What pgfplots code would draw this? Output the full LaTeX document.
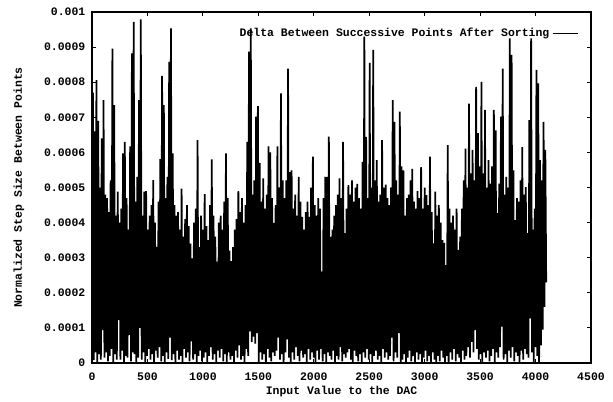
\documentclass[border=0pt]{standalone}
\usepackage{pgfplots}
\pgfplotsset{compat=1.18}
\usepackage{fontspec}
\newfontfamily\cour{Liberation Mono}
\newcommand{\cf}{\cour\bfseries\fontsize{8.6}{10}\selectfont}
\begin{document}
\begin{tikzpicture}
\path (-69pt,-27pt) rectangle (390.75pt,272.25pt);
\begin{axis}[
  at={(0pt,0pt)}, anchor=south west,
  scale only axis, width=374.25pt, height=263.25pt,
  xmin=0, xmax=4500, ymin=0, ymax=1000,
  xtick={0,500,1000,1500,2000,2500,3000,3500,4000,4500},
  xticklabels={0,500,1000,1500,2000,2500,3000,3500,4000,4500},
  ytick={0,100,200,300,400,500,600,700,800,900,1000},
  yticklabels={0,0.0001,0.0002,0.0003,0.0004,0.0005,0.0006,0.0007,0.0008,0.0009,0.001},
  tick align=inside, major tick length=3pt,
  every tick/.style={black, line width=0.8pt},
  axis line style={line width=1pt},
  tick label style={font=\cf},
  yticklabel style={xshift=-1.5pt},
  xticklabel style={yshift=-4pt},
  label style={font=\cf},
  xlabel={Input Value to the DAC},
  xlabel style={at={(rel axis cs:0.5,0)}, anchor=center, yshift=-21.5pt},
  ylabel={Normalized Step Size Between Points},
  ylabel style={at={(rel axis cs:0,0.5)}, anchor=center, yshift=54.75pt},
  legend style={at={(rel axis cs:1,1)}, anchor=north east, xshift=-9.5pt, yshift=-10pt,
    draw=none, fill=none, font=\cf, inner sep=0pt},
  legend plot pos=right,
  legend cell align=right,
  legend image code/.code={\draw[black, line width=0.8pt] (0pt,0pt) -- (18.75pt,0pt);},
]
\addplot[black, line width=1.3pt, line join=miter, miter limit=2] coordinates {
(0,20)(8,770)(16,8)(24,660)(32,30)(40,806)(48,0)(56,690)(64,25)(72,500)(80,10)(88,640)(96,94)(104,749)(112,15)(120,480)
(128,30)(136,470)(144,5)(152,430)(160,20)(168,520)(176,40)(184,896)(192,0)(200,735)(208,25)(216,420)(224,10)(232,488)(240,122)(248,400)
(256,10)(264,440)(272,35)(280,597)(288,0)(296,630)(304,20)(312,470)(320,15)(328,380)(336,80)(344,617)(352,5)(360,882)(368,30)(376,972)
(384,25)(392,460)(400,0)(408,530)(416,15)(424,749)(432,100)(440,979)(448,10)(456,420)(464,30)(472,488)(480,0)(488,490)(496,20)(504,380)
(512,40)(520,420)(528,10)(536,450)(544,25)(552,521)(560,0)(568,400)(576,35)(584,331)(592,15)(600,460)(608,45)(616,581)(624,5)(632,818)
(640,20)(648,735)(656,0)(664,470)(672,30)(680,530)(688,12)(696,858)(704,72)(712,953)(720,8)(728,597)(736,25)(744,450)(752,0)(760,420)
(768,35)(776,430)(784,10)(792,380)(800,20)(808,497)(816,0)(824,360)(832,40)(840,410)(848,15)(856,450)(864,30)(872,390)(880,5)(888,340)
(896,62)(904,298)(912,10)(920,400)(928,25)(936,440)(944,0)(952,635)(960,20)(968,330)(976,35)(984,420)(992,5)(1000,380)(1008,15)(1016,481)
(1024,30)(1032,390)(1040,0)(1048,350)(1056,20)(1064,450)(1072,45)(1080,580)(1088,10)(1096,420)(1104,25)(1112,360)(1120,0)(1128,289)(1136,35)(1144,400)
(1152,15)(1160,420)(1168,40)(1176,380)(1184,5)(1192,460)(1200,25)(1208,597)(1216,0)(1224,470)(1232,30)(1240,320)(1248,10)(1256,290)(1264,20)(1272,330)
(1280,0)(1288,380)(1296,35)(1304,410)(1312,15)(1320,490)(1328,50)(1336,430)(1344,10)(1352,470)(1360,20)(1368,400)(1376,0)(1384,450)(1392,40)(1400,630)
(1408,20)(1416,887)(1424,90)(1432,953)(1440,60)(1448,480)(1456,75)(1464,520)(1472,55)(1480,702)(1488,85)(1496,732)(1504,0)(1512,570)(1520,30)(1528,460)
(1536,10)(1544,526)(1552,25)(1560,440)(1568,0)(1576,480)(1584,40)(1592,617)(1600,15)(1608,600)(1616,5)(1624,470)(1632,30)(1640,399)(1648,20)(1656,450)
(1664,35)(1672,617)(1680,72)(1688,500)(1696,10)(1704,768)(1712,25)(1720,520)(1728,0)(1736,470)(1744,30)(1752,520)(1760,67)(1768,839)(1776,15)(1784,544)
(1792,0)(1800,549)(1808,30)(1816,440)(1824,10)(1832,480)(1840,45)(1848,420)(1856,20)(1864,530)(1872,5)(1880,460)(1888,35)(1896,416)(1904,15)(1912,380)
(1920,25)(1928,430)(1936,0)(1944,460)(1952,40)(1960,416)(1968,10)(1976,500)(1984,30)(1992,588)(2000,15)(2008,450)(2016,0)(2024,420)(2032,35)(2040,470)
(2048,10)(2056,440)(2064,40)(2072,260)(2080,5)(2088,470)(2096,25)(2104,530)(2112,0)(2120,530)(2128,30)(2136,645)(2144,20)(2152,359)(2160,10)(2168,380)
(2176,35)(2184,420)(2192,0)(2200,450)(2208,20)(2216,480)(2224,10)(2232,526)(2240,45)(2248,470)(2256,5)(2264,630)(2272,25)(2280,370)(2288,15)(2296,440)
(2304,30)(2312,507)(2320,40)(2328,480)(2336,10)(2344,520)(2352,0)(2360,460)(2368,35)(2376,500)(2384,20)(2392,510)(2400,5)(2408,470)(2416,25)(2424,440)
(2432,0)(2440,573)(2448,30)(2456,930)(2464,15)(2472,644)(2480,40)(2488,470)(2496,10)(2504,855)(2512,25)(2520,500)(2528,0)(2536,892)(2544,20)(2552,520)
(2560,35)(2568,578)(2576,10)(2584,460)(2592,20)(2600,480)(2608,0)(2616,635)(2624,40)(2632,500)(2640,15)(2648,508)(2656,30)(2664,470)(2672,10)(2680,450)
(2688,20)(2696,500)(2704,72)(2712,749)(2720,5)(2728,687)(2736,30)(2744,520)(2752,15)(2760,480)(2768,86)(2776,716)(2784,0)(2792,560)(2800,10)(2808,549)
(2816,25)(2824,420)(2832,0)(2840,470)(2848,15)(2856,480)(2864,35)(2872,520)(2880,5)(2888,553)(2896,20)(2904,460)(2912,0)(2920,440)(2928,30)(2936,490)
(2944,10)(2952,470)(2960,25)(2968,558)(2976,0)(2984,440)(2992,15)(3000,500)(3008,35)(3016,478)(3024,5)(3032,450)(3040,20)(3048,588)(3056,0)(3064,430)
(3072,30)(3080,341)(3088,10)(3096,488)(3104,0)(3112,420)(3120,20)(3128,450)(3136,5)(3144,400)(3152,35)(3160,350)(3168,15)(3176,342)(3184,0)(3192,279)
(3200,20)(3208,621)(3216,0)(3224,440)(3232,30)(3240,400)(3248,10)(3256,420)(3264,40)(3272,380)(3280,5)(3288,440)(3296,25)(3304,322)(3312,15)(3320,360)
(3328,0)(3336,440)(3344,35)(3352,520)(3360,10)(3368,611)(3376,20)(3384,500)(3392,45)(3400,739)(3408,15)(3416,540)(3424,60)(3432,607)(3440,30)(3448,520)
(3456,94)(3464,787)(3472,40)(3480,655)(3488,10)(3496,560)(3504,25)(3512,801)(3520,0)(3528,540)(3536,30)(3544,721)(3552,15)(3560,500)(3568,35)(3576,578)
(3584,5)(3592,511)(3600,20)(3608,560)(3616,40)(3624,721)(3632,0)(3640,663)(3648,30)(3656,427)(3664,15)(3672,511)(3680,45)(3688,702)(3696,104)(3704,839)
(3712,10)(3720,480)(3728,25)(3736,530)(3744,0)(3752,500)(3760,35)(3768,925)(3776,15)(3784,878)(3792,45)(3800,549)(3808,5)(3816,407)(3824,30)(3832,470)
(3840,20)(3848,460)(3856,0)(3864,520)(3872,35)(3880,615)(3888,10)(3896,480)(3904,40)(3912,501)(3920,25)(3928,370)(3936,15)(3944,692)(3952,127)(3960,925)
(3968,30)(3976,380)(3984,0)(3992,440)(4000,45)(4008,835)(4016,20)(4024,797)(4032,0)(4040,578)(4048,50)(4056,520)(4064,95)(4072,687)(4080,160)(4088,607)(4096,230)
};
\addlegendentry{Delta Between Successive Points After Sorting}
\end{axis}
\end{tikzpicture}
\end{document}
